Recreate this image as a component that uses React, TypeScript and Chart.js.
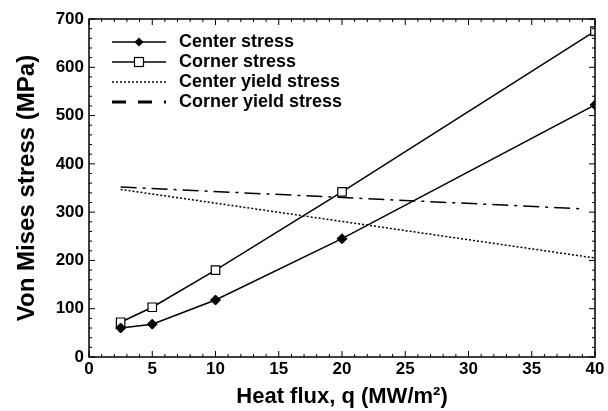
import React, { useEffect, useRef } from "react";
import { Chart, registerables } from "chart.js";

Chart.register(...registerables);

const heatFlux = [2.5, 5, 10, 20, 40];
const centerStress = [60, 68, 118, 245, 522];
const cornerStress = [72, 103, 180, 342, 675];
const centerYieldFlux = [2.5, 40];
const centerYield = [347, 205];
const cornerYieldFlux = [2.5, 38.9];
const cornerYield = [352, 307];

const xTicks = [0, 5, 10, 15, 20, 25, 30, 35, 40];
const yTicks = [0, 100, 200, 300, 400, 500, 600, 700];

const legendLabels = ["Center stress", "Corner stress", "Center yield stress", "Corner yield stress"];
const xTitle = "Heat flux, q (MW/m²)";
const yTitle = "Von Mises stress (MPa)";

const FONT = "'Liberation Sans', Arial, sans-serif";

export default function App() {
  const ref = useRef<HTMLCanvasElement | null>(null);
  useEffect(() => {
    if (!ref.current) return;
    const pts = (xs: number[], ys: number[]) => xs.map((x, i) => ({ x, y: ys[i] }));
    const framePlugin = {
      id: "frame",
      afterDatasetsDraw(chart: any) {
        const { ctx, chartArea: a, scales } = chart;
        const xs = scales.x, ys = scales.y;
        ctx.save();
        ctx.strokeStyle = "#000";
        ctx.lineWidth = 1.5;
        ctx.strokeRect(a.left, a.top, a.right - a.left, a.bottom - a.top);
        ctx.lineWidth = 1;
        for (let v = 0; v <= 40; v += 1) {
          const px = xs.getPixelForValue(v);
          const len = v % 5 === 0 ? 6 : 3;
          ctx.beginPath();
          ctx.moveTo(px, a.bottom);
          ctx.lineTo(px, a.bottom - len);
          ctx.moveTo(px, a.top);
          ctx.lineTo(px, a.top + len);
          ctx.stroke();
        }
        for (let v = 0; v <= 700; v += 20) {
          const py = ys.getPixelForValue(v);
          const len = v % 100 === 0 ? 6 : 3;
          ctx.beginPath();
          ctx.moveTo(a.left, py);
          ctx.lineTo(a.left + len, py);
          ctx.moveTo(a.right, py);
          ctx.lineTo(a.right - len, py);
          ctx.stroke();
        }
        // axis titles
        ctx.fillStyle = "#000";
        ctx.textAlign = "center";
        ctx.textBaseline = "middle";
        ctx.font = `bold 22px ${FONT}`;
        ctx.fillText(xTitle, (a.left + a.right) / 2, 397);
        ctx.save();
        ctx.translate(27, 188);
        ctx.rotate(-Math.PI / 2);
        ctx.font = `bold 24px ${FONT}`;
        ctx.fillText(yTitle, 0, 0);
        ctx.restore();
        // legend
        const rows = [42, 62, 82, 102];
        const x0 = 112, x1 = 166, tx = 179;
        rows.forEach((ry, i) => {
          ctx.save();
          ctx.strokeStyle = "#000";
          ctx.lineWidth = i === 3 ? 3 : 1.5;
          if (i === 2) ctx.setLineDash([2, 2]);
          if (i === 3) ctx.setLineDash([14, 12]);
          ctx.beginPath();
          ctx.moveTo(x0, ry);
          ctx.lineTo(x1, ry);
          ctx.stroke();
          ctx.setLineDash([]);
          const mx = (x0 + x1) / 2;
          if (i === 0) {
            ctx.fillStyle = "#000";
            ctx.beginPath();
            ctx.moveTo(mx, ry - 4.5);
            ctx.lineTo(mx + 4.5, ry);
            ctx.lineTo(mx, ry + 4.5);
            ctx.lineTo(mx - 4.5, ry);
            ctx.closePath();
            ctx.fill();
          } else if (i === 1) {
            ctx.fillStyle = "#fff";
            ctx.lineWidth = 1.2;
            ctx.fillRect(mx - 4.5, ry - 4.5, 9, 9);
            ctx.strokeRect(mx - 4.5, ry - 4.5, 9, 9);
          }
          ctx.fillStyle = "#000";
          ctx.font = `bold 18px ${FONT}`;
          ctx.textBaseline = "middle";
          ctx.textAlign = "left";
          ctx.fillText(legendLabels[i], tx, ry);
          ctx.restore();
        });
        ctx.restore();
      },
    };
    const chart = new Chart(ref.current, {
      type: "scatter",
      data: {
        datasets: [
          {
            label: legendLabels[0],
            data: pts(heatFlux, centerStress),
            showLine: true,
            borderColor: "#000",
            backgroundColor: "#000",
            borderWidth: 1.5,
            pointStyle: "rectRot",
            pointRadius: 5,
            pointBorderWidth: 1,
          },
          {
            label: legendLabels[1],
            data: pts(heatFlux, cornerStress),
            showLine: true,
            borderColor: "#000",
            backgroundColor: "#fff",
            borderWidth: 1.5,
            pointStyle: "rect",
            pointRadius: 6,
            pointBorderWidth: 1.2,
          },
          {
            label: legendLabels[2],
            data: pts(centerYieldFlux, centerYield),
            showLine: true,
            borderColor: "#000",
            borderWidth: 1.5,
            borderDash: [2, 2],
            pointRadius: 0,
          },
          {
            label: legendLabels[3],
            data: pts(cornerYieldFlux, cornerYield),
            showLine: true,
            borderColor: "#000",
            borderWidth: 1.5,
            borderDash: [16, 6, 3, 6],
            pointRadius: 0,
          },
        ],
      },
      options: {
        animation: false,
        responsive: false,
        maintainAspectRatio: false,
        layout: { padding: { top: 19, right: 13, left: 0, bottom: 0 } },
        plugins: { legend: { display: false }, tooltip: { enabled: false } },
        scales: {
          x: {
            type: "linear",
            min: 0,
            max: 40,
            afterBuildTicks: (s: any) => {
              s.ticks = xTicks.map((v) => ({ value: v }));
            },
            afterFit: (s: any) => {
              s.height = 54;
            },
            grid: { display: false, drawTicks: false },
            border: { display: false },
            ticks: {
              color: "#000",
              padding: 2,
              font: { family: FONT, size: 17, weight: "bold" },
            },
            title: { display: false },
          },
          y: {
            type: "linear",
            min: 0,
            max: 700,
            afterBuildTicks: (s: any) => {
              s.ticks = yTicks.map((v) => ({ value: v }));
            },
            afterFit: (s: any) => {
              s.width = 89;
            },
            grid: { display: false, drawTicks: false },
            border: { display: false },
            ticks: {
              color: "#000",
              padding: 5,
              font: { family: FONT, size: 17, weight: "bold" },
            },
            title: { display: false },
          },
        },
      },
      plugins: [framePlugin],
    } as any);
    return () => chart.destroy();
  }, []);
  return (
    <div style={{ position: "fixed", left: 0, top: 0, width: 608, height: 411, background: "#fff" }}>
      <canvas ref={ref} width={608} height={411} style={{ width: 608, height: 411 }} />
    </div>
  );
}
